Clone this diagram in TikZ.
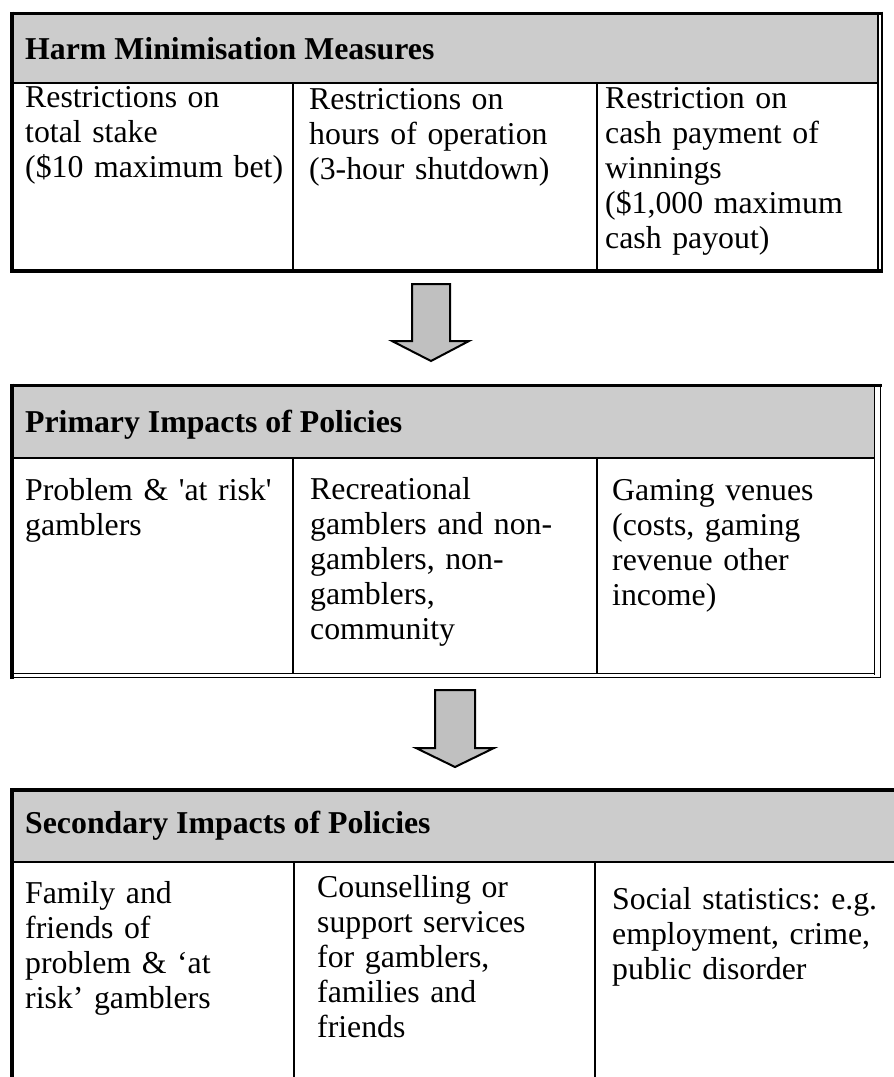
\documentclass[tikz,border=0pt]{standalone}
\usepackage{fontspec}
\setmainfont{Liberation Serif}
\frenchspacing
\definecolor{headgrey}{HTML}{CCCCCC}
\definecolor{arrowgrey}{HTML}{C0C0C0}
\tikzset{
  cell/.style={anchor=base west, inner sep=0pt, text width=300pt, align=left,
    font=\fontsize{31.8}{35}\selectfont},
  headtext/.style={anchor=base west, inner sep=0pt,
    font=\fontsize{31.8}{35}\selectfont\bfseries},
  headfill/.style={fill=headgrey, draw=none},
  outerline/.style={line width=3pt},
  heavyline/.style={line width=4pt},
  ruleline/.style={line width=2.5pt},
  divider/.style={line width=2pt},
  thinline/.style={line width=1.5pt},
  blockarrow/.style={fill=arrowgrey, draw=black, line width=2pt, line join=miter},
}
\begin{document}
\begin{tikzpicture}[x=1pt,y=-1pt]
\useasboundingbox (0,0) rectangle (894,1077);

% ---------- Harm minimisation measures ----------
\fill[headfill] (12,13) rectangle (878,83);
\draw[outerline] (10,13) -- (882,13);
\draw[heavyline] (12,11.5) -- (12,273);
\draw[heavyline] (10,271) -- (882,271);
\draw[thinline] (878,12) -- (878,273);
\draw[thinline] (882,11.5) -- (882,273);
\draw[ruleline] (12,83) -- (878,83);
\draw[divider] (293,83) -- (293,271);
\draw[divider] (597,83) -- (597,271);

\node[headtext] (harm) at (25,59) {Harm Minimisation Measures};
\node[cell] (stake) at (25,107.5) {Restrictions on\\total stake\\(\$10 maximum bet)};
\node[cell] (hours) at (309,109) {Restrictions on\\hours of operation\\(3-hour shutdown)};
\node[cell] (cash) at (605,108) {Restriction on\\cash payment of\\winnings\\(\$1,000 maximum\\cash payout)};

% arrow down to primary impacts
\draw[blockarrow] (412,284) -- (450,284) -- (450,341) -- (469,341) -- (431,361)
  -- (392,341) -- (412,341) -- cycle;

% ---------- Primary impacts ----------
\fill[headfill] (12,385) rectangle (874,458);
\draw[outerline] (10,385) -- (882,385);
\draw[heavyline] (12,383.5) -- (12,679);
\draw[ruleline] (12,458) -- (874,458);
\draw[thinline] (874.5,384) -- (874.5,674.5);
\draw[thinline] (880.5,383.5) -- (880.5,678);
\draw[thinline] (12,673.5) -- (875,673.5);
\draw[thinline] (10,677.5) -- (881.2,677.5);
\draw[divider] (293,458) -- (293,673);
\draw[divider] (597,458) -- (597,673);

\node[headtext] (primary) at (25,432) {Primary Impacts of Policies};
\node[cell] (problem) at (25,500) {Problem \& \textquotesingle{}at risk\textquotesingle\\gamblers};
\node[cell] (recreational) at (310,499) {Recreational\\gamblers and non-\\gamblers, non-\\gamblers,\\community};
\node[cell] (venues) at (612,500) {Gaming venues\\(costs, gaming\\revenue other\\income)};

% arrow down to secondary impacts
\draw[blockarrow] (435,690) -- (475,690) -- (475,748) -- (494,748) -- (455,767)
  -- (416,748) -- (435,748) -- cycle;

% ---------- Secondary impacts ----------
\fill[headfill] (12,790) rectangle (894,862);
\draw[heavyline] (10,790) -- (894,790);
\draw[heavyline] (12,788) -- (12,1077);
\draw[ruleline] (12,862) -- (894,862);
\draw[divider] (294,862) -- (294,1077);
\draw[divider] (595,862) -- (595,1077);

\node[headtext] (secondary) at (25,833) {Secondary Impacts of Policies};
\node[cell] (family) at (25,903) {Family and\\friends of\\problem \& `at\\risk' gamblers};
\node[cell] (services) at (317,897) {Counselling or\\support services\\for gamblers,\\families and\\friends};
\node[cell] (social) at (612,909) {Social statistics: e.g.\\employment, crime,\\public disorder};
\end{tikzpicture}
\end{document}
